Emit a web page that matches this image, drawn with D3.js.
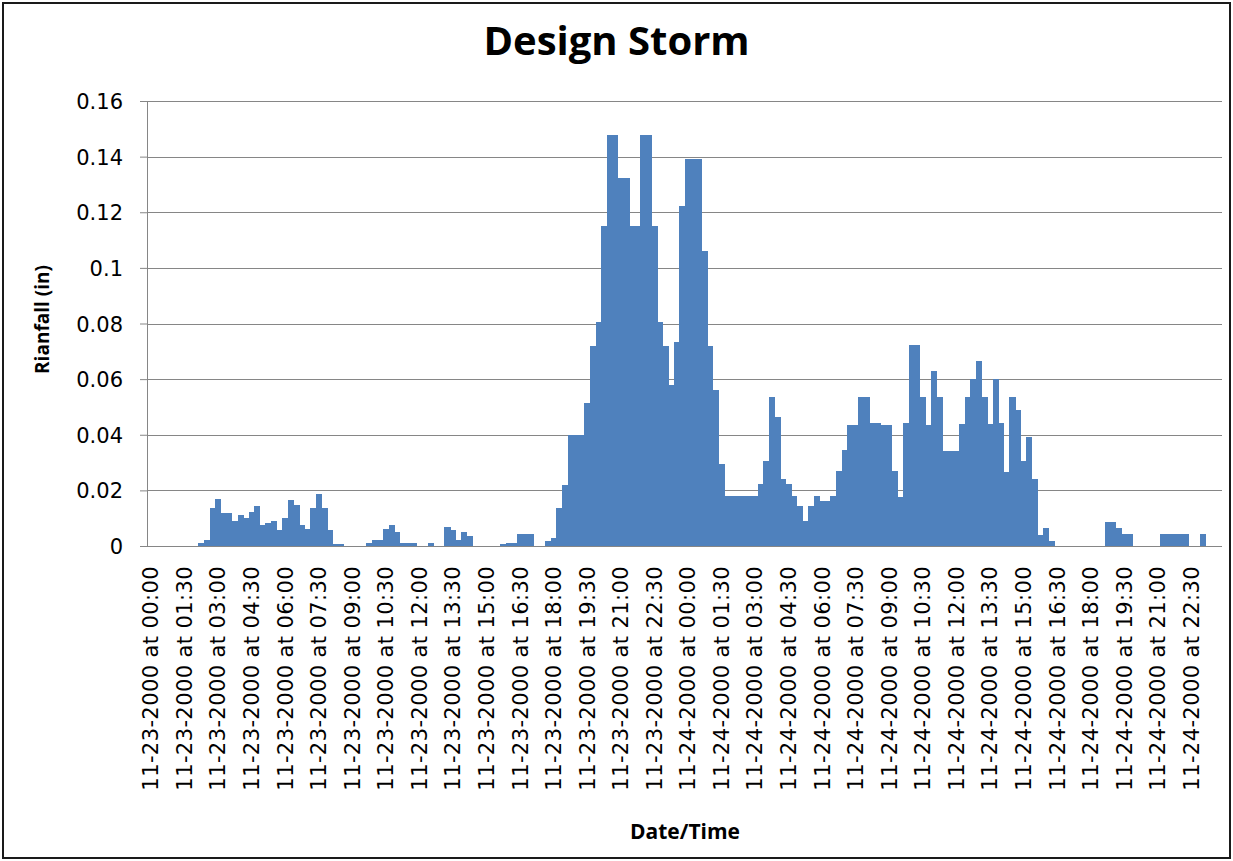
<!DOCTYPE html>
<html>
<head>
<meta charset="utf-8">
<script src="https://cdn.jsdelivr.net/npm/d3@7"></script>
<style>
    body { margin: 0; background: #fff; }
    .axis-title { font-family: "Open Sans", sans-serif; font-weight: bold; fill: #000; }
    .tick text { font-family: "DejaVu Sans", sans-serif; fill: #000; }
</style>
</head>
<body>
<div id="chart"></div>
<script>

// rainfall per 15 minute step
// 11-23-2000, 00:00 to 23:45
let rainDay1 = [
    0, 0, 0, 0, 0, 0, 0, 0, 0, 0.001, 0.002, 0.0135,
    0.017, 0.012, 0.012, 0.009, 0.0113, 0.0099, 0.0123, 0.0144, 0.0077, 0.0081, 0.0089, 0.0057,
    0.0099, 0.0167, 0.0146, 0.0075, 0.0062, 0.0135, 0.0188, 0.0135, 0.0057, 0.0007, 0.0007, 0,
    0, 0, 0, 0.0012, 0.002, 0.002, 0.006, 0.0075, 0.0049, 0.0011, 0.0011, 0.0011,
    0, 0, 0.0011, 0, 0, 0.007, 0.0057, 0.002, 0.0049, 0.0035, 0, 0,
    0, 0, 0, 0.0006, 0.0012, 0.0012, 0.0043, 0.0043, 0.0043, 0, 0, 0.0019,
    0.003, 0.0135, 0.022, 0.04, 0.04, 0.04, 0.0515, 0.072, 0.0806, 0.1151, 0.1477, 0.1477,
    0.1322, 0.1322, 0.1151, 0.1151, 0.1477, 0.1477, 0.1151, 0.0806, 0.072, 0.058, 0.0734, 0.1224
];

// 11-24-2000, 00:00 to 23:45
let rainDay2 = [
    0.139, 0.139, 0.139, 0.1062, 0.072, 0.056, 0.0294, 0.0178, 0.0178, 0.0178, 0.0178, 0.0178,
    0.0178, 0.0223, 0.0306, 0.0537, 0.0464, 0.0241, 0.0223, 0.0178, 0.0145, 0.0091, 0.0145, 0.0178,
    0.0163, 0.0163, 0.0178, 0.0269, 0.0344, 0.0435, 0.0435, 0.0537, 0.0537, 0.0442, 0.0442, 0.0435,
    0.0435, 0.0268, 0.0177, 0.0442, 0.0722, 0.0722, 0.0536, 0.0434, 0.0628, 0.0536, 0.0343, 0.0343,
    0.0343, 0.0439, 0.0536, 0.06, 0.0665, 0.0536, 0.0439, 0.06, 0.0442, 0.0267, 0.0536, 0.0489,
    0.0305, 0.0393, 0.024, 0.0041, 0.0064, 0.0018, 0, 0, 0, 0, 0, 0,
    0, 0, 0, 0.0087, 0.0087, 0.0065, 0.0043, 0.0043, 0, 0, 0, 0,
    0, 0.0043, 0.0043, 0.0043, 0.0043, 0.0043, 0, 0, 0.0043, 0, 0, 0
];

let days = ["11-23-2000", "11-24-2000"];
let stepMinutes = 15;
let labelEvery = 6; // one label per 1:30
let yTicks = [0, 0.02, 0.04, 0.06, 0.08, 0.1, 0.12, 0.14, 0.16];

// build categories "11-23-2000 at 00:00" ...
let pad = n => (n < 10 ? "0" : "") + n;
let data = [];
[rainDay1, rainDay2].forEach((series, di) => {
    series.forEach((v, i) => {
        let m = i * stepMinutes;
        data.push({
            label: days[di] + " at " + pad(Math.floor(m / 60)) + ":" + pad(m % 60),
            value: v
        });
    });
});

let W = 1233, H = 861;
let margin = {top: 101, right: 11, bottom: 315, left: 148};
let width = W - margin.left - margin.right,
    height = H - margin.top - margin.bottom;

let colors = {
    bar: "#4F81BD",
    grid: "#868686",
    frame: "#1a1a1a"
};

let svg = d3.select("#chart").append("svg")
    .attr("width", W)
    .attr("height", H);

// outer chart frame
svg.append("rect")
    .attr("x", 3).attr("y", 3)
    .attr("width", 1227).attr("height", 855)
    .attr("fill", "#fff")
    .attr("stroke", colors.frame)
    .attr("stroke-width", 2);

let g = svg.append("g")
    .attr("transform", "translate(" + margin.left + "," + margin.top + ")");

// scales
let x = d3.scaleBand()
    .domain(data.map(d => d.label))
    .range([0, width])
    .padding(0);

let y = d3.scaleLinear()
    .domain([0, 0.16])
    .range([height, 0]);

// gridlines
g.append("g")
    .attr("class", "grid")
    .selectAll("line")
    .data(yTicks.slice(1))
    .enter().append("line")
    .attr("x1", 0)
    .attr("x2", width)
    .attr("y1", d => Math.round(y(d)) + 0.5)
    .attr("y2", d => Math.round(y(d)) + 0.5)
    .attr("stroke", colors.grid)
    .attr("stroke-width", 1);

// bars, no gap like excel
g.append("g")
    .attr("class", "bars")
    .attr("shape-rendering", "crispEdges")
    .selectAll("rect")
    .data(data)
    .enter().append("rect")
    .attr("x", d => x(d.label))
    .attr("y", d => y(d.value))
    .attr("width", x.bandwidth() + 0.5)
    .attr("height", d => height - y(d.value))
    .attr("fill", colors.bar);

// y axis
let yAxis = d3.axisLeft(y)
    .tickValues(yTicks)
    .tickSize(8)
    .tickPadding(17)
    .tickFormat(d => d3.format("")(+d.toFixed(2)));

let yG = g.append("g")
    .attr("class", "y-axis axis")
    .call(yAxis);
yG.select(".domain").attr("stroke", colors.grid).attr("d", "M-0.5," + height + "V0");
yG.selectAll(".tick line").attr("stroke", colors.grid);
yG.selectAll(".tick text").style("font-size", "21px").attr("dy", "0.36em");

// x axis, label every 6th category
let xAxis = d3.axisBottom(x)
    .tickValues(data.filter((d, i) => i % labelEvery === 0).map(d => d.label))
    .tickSize(0)
    .tickPadding(0);

let xG = g.append("g")
    .attr("class", "x-axis axis")
    .attr("transform", "translate(0," + height + ")")
    .call(xAxis);
xG.select(".domain").attr("stroke", colors.grid).attr("d", "M0,0.5H" + width);
xG.selectAll(".tick text")
    .style("font-size", "21px")
    .style("letter-spacing", "0.4px")
    .attr("text-anchor", "end")
    .attr("transform", "rotate(-90)")
    .attr("x", -20)
    .attr("y", 0)
    .attr("dy", "0.36em");

// titles
svg.append("text")
    .attr("class", "axis-title")
    .attr("x", W / 2)
    .attr("y", 55)
    .attr("text-anchor", "middle")
    .style("font-size", "40px")
    .text("Design Storm");

svg.append("text")
    .attr("class", "axis-title")
    .attr("x", margin.left + width / 2)
    .attr("y", 839)
    .attr("text-anchor", "middle")
    .style("font-size", "21px")
    .text("Date/Time");

svg.append("text")
    .attr("class", "axis-title")
    .attr("transform", "translate(49," + (margin.top + height / 2 - 4) + ") rotate(-90)")
    .attr("text-anchor", "middle")
    .style("font-size", "19px")
    .text("Rianfall (in)");

</script>
</body>
</html>
